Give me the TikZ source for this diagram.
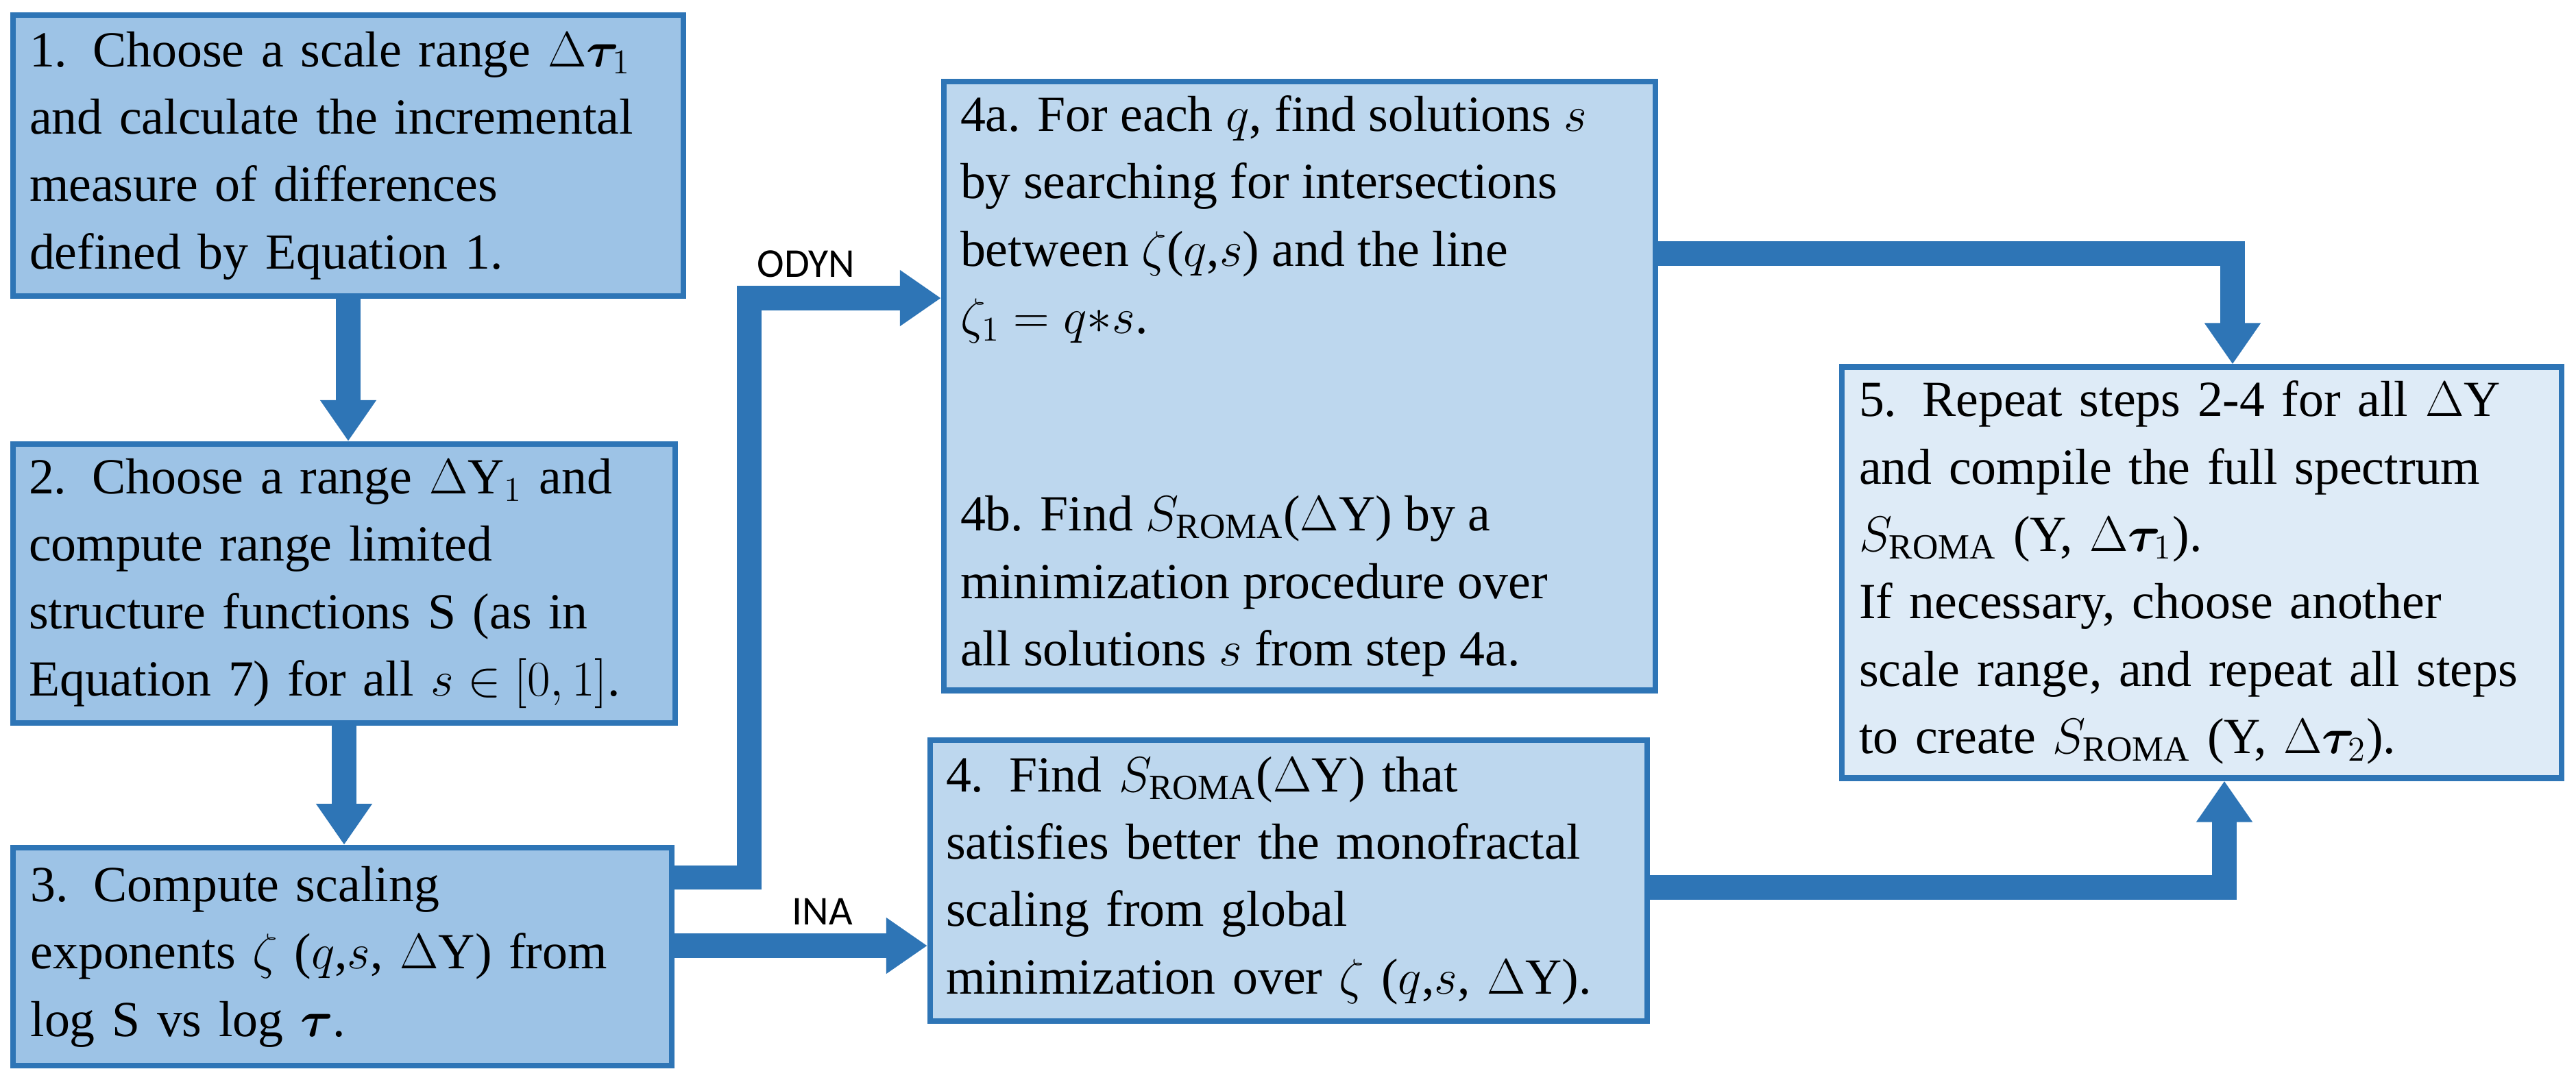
\documentclass[tikz,border=0pt]{standalone}
\usepackage{fontspec}
\usepackage{amsmath,bm}
\setmainfont{Liberation Serif}
\newfontfamily\labelfont{Carlito}
\usetikzlibrary{arrows.meta,positioning}
\definecolor{boxline}{HTML}{2E75B6}
\definecolor{fillA}{HTML}{9DC3E6}
\definecolor{fillB}{HTML}{BDD7EE}
\definecolor{fillC}{HTML}{DEEBF7}
\tikzset{
  stepbox/.style={draw=boxline, line width=2.4pt, inner sep=0.2cm, align=left,
    font=\fontsize{21}{28}\selectfont},
  flow/.style={draw=boxline, line width=10pt,
    -{Triangle[length=0.6cm, width=0.78cm]}},
  branch/.style={font=\labelfont\fontsize{17}{20}\selectfont}
}
\newcommand{\sroma}{$S_{\text{ROMA}}$}
\begin{document}
\begin{tikzpicture}
  \useasboundingbox[fill=white] (0,0) rectangle (37.58,-15.75);
  % left column
  \node[stepbox, fill=fillA, minimum width=9.78cm, minimum height=4.1cm, text width=9.3cm]
    (b1) at (5.08,-2.27)
    {1. Choose a scale range $\Delta\bm{\tau}_1$\\and calculate the incremental\\measure of differences\\defined by Equation 1.};
  \node[stepbox, fill=fillA, minimum width=9.66cm, minimum height=4.07cm, text width=9.2cm]
    (b2) at (5.02,-8.515)
    {2. Choose a range $\Delta\mathrm{Y}_1$ and\\compute range limited\\structure functions S (as in\\Equation 7) for all $s \in [0,1]$.};
  \node[stepbox, fill=fillA, minimum width=9.61cm, minimum height=3.18cm, text width=9.1cm]
    (b3) at (4.995,-13.96)
    {3. Compute scaling\\exponents $\zeta$ ($q$,$s$, $\Delta$Y) from\\log S vs log $\bm{\tau}$.};
  % middle column
  \node[stepbox, fill=fillB, minimum width=10.38cm, minimum height=7.82cm, text width=9.9cm,
    align=justify, anchor=north] (b4a) at (18.96,-1.15)
    {4a. For each $q$, find solutions $s$ by searching for intersections between $\zeta$($q$,$s$) and the line $\zeta_1 = q{*}s$.\\[1.9cm]
     \raggedright 4b. Find \sroma($\Delta$Y) by a\\minimization procedure over\\all solutions $s$ from step 4a.};
  \node[stepbox, fill=fillB, minimum width=10.46cm, minimum height=4.1cm, text width=10cm]
    (b4) at (18.80,-12.85)
    {4. Find \sroma($\Delta$Y) that\\satisfies better the monofractal\\scaling from global\\minimization over $\zeta$ ($q$,$s$, $\Delta$Y).};
  % right column
  \node[stepbox, fill=fillC, minimum width=10.5cm, minimum height=5.95cm, text width=10cm]
    (b5) at (32.12,-8.355)
    {5. Repeat steps 2-4 for all $\Delta$Y\\and compile the full spectrum\\\sroma\ (Y, $\Delta\bm{\tau}_1$).\\If necessary, choose another\\scale range, and repeat all steps\\to create \sroma\ (Y, $\Delta\bm{\tau}_2$).};
  % connectors
  \coordinate (odynbend) at (10.93,-4.35);
  \coordinate (top5) at (32.57,-3.70);
  \coordinate (bot5) at (32.45,-12.95);
  \draw[flow] (b1.south) -- (b1.south |- b2.north);
  \draw[flow] (b2.south) -- (b2.south |- b3.north);
  \draw[flow] ([yshift=-0.48cm]b3.north east) -| (odynbend) -- (odynbend -| b4a.west);
  \draw[flow] (b3.east |- 0,-13.80) -- (b4.west |- 0,-13.80);
  \draw[flow] (b4a.east |- top5) -- (top5) -- (top5 |- b5.north);
  \draw[flow] (b4.east |- bot5) -- (bot5) -- (bot5 |- b5.south);
  \node[branch] (odyn) at (11.76,-3.85) {ODYN};
  \node[branch] (ina) at (12.0,-13.3) {INA};
\end{tikzpicture}
\end{document}
